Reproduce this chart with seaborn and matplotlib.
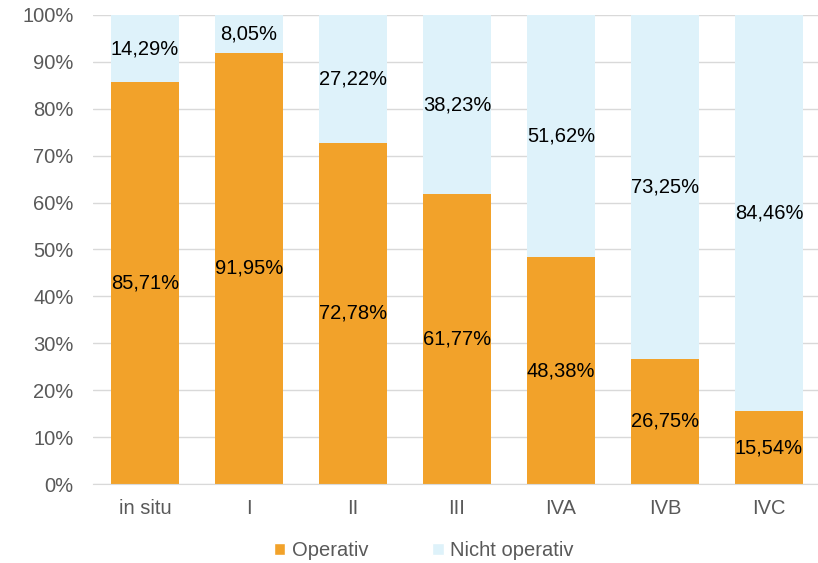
import numpy as np
import pandas as pd
import seaborn as sns
from matplotlib import pyplot as plt
from matplotlib.patches import Patch

stages = ['in situ', 'I', 'II', 'III', 'IVA', 'IVB', 'IVC']
operativ = [85.71, 91.95, 72.78, 61.77, 48.38, 26.75, 15.54]
nicht_operativ = [14.29, 8.05, 27.22, 38.23, 51.62, 73.25, 84.46]

ORANGE = '#F2A22A'
BLUE = '#DEF2FA'

sns.set_style('white')
plt.rcParams['font.family'] = ['Liberation Sans', 'DejaVu Sans']

df = pd.DataFrame({'Stage': stages, 'Operativ': operativ, 'Nicht': nicht_operativ})
df['Total'] = df['Operativ'] + df['Nicht']

fig = plt.figure(figsize=(8.18, 5.63), dpi=100)
ax = fig.add_axes([93 / 818, 1 - 484 / 563, 728 / 818, 469 / 563])

ax.set_axisbelow(True)
ax.yaxis.grid(True, color='#D9D9D9', linewidth=1)

sns.barplot(data=df, x='Stage', y='Total', color=BLUE, width=0.66,
            saturation=1, ax=ax, edgecolor='none')
sns.barplot(data=df, x='Stage', y='Operativ', color=ORANGE, width=0.66,
            saturation=1, ax=ax, edgecolor='none')

# percentage labels in the middle of each segment
for i, (o, n) in enumerate(zip(operativ, nicht_operativ)):
    ax.text(i, o / 2, f"{o:.2f}%".replace('.', ','), ha='center', va='center',
            fontsize=14.5, color='black')
    ax.text(i, o + n / 2, f"{n:.2f}%".replace('.', ','), ha='center', va='center',
            fontsize=14.5, color='black')

ax.set_ylim(0, 100)
ax.set_xlim(-0.5, len(stages) - 0.5)
ax.set_yticks(np.arange(0, 101, 10))
ax.set_yticklabels([f"{v}%" for v in range(0, 101, 10)])
ax.set_xlabel('')
ax.set_ylabel('')
ax.tick_params(axis='both', colors='#595959', labelsize=14.5, length=0)
ax.tick_params(axis='x', pad=11)
ax.tick_params(axis='y', pad=14)
for s in ['top', 'right', 'left']:
    ax.spines[s].set_visible(False)
ax.spines['bottom'].set_color('#D9D9D9')

handles = [Patch(facecolor=ORANGE, label='Operativ'),
           Patch(facecolor=BLUE, label='Nicht operativ')]
fig.legend(handles=handles, loc='center', bbox_to_anchor=(0.518, 1 - 551 / 563),
           ncol=2, frameon=False, fontsize=14.5, labelcolor='#595959',
           handlelength=0.55, handleheight=0.55, handletextpad=0.3, columnspacing=3.2)

fig.savefig('out.png', dpi=100)
